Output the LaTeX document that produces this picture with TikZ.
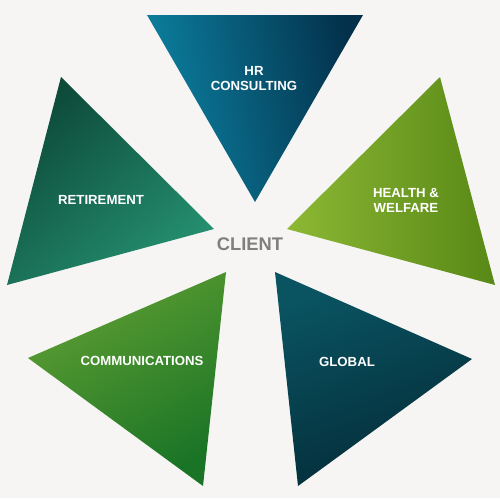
\documentclass[tikz,border=0pt]{standalone}
\usepackage{fontspec}
\setmainfont{Liberation Sans}
\definecolor{bg}{HTML}{F6F5F3}
\definecolor{hrA}{HTML}{0C82A2}
\definecolor{hrB}{HTML}{03304A}
\definecolor{reA}{HTML}{0D4A3A}
\definecolor{reB}{HTML}{259070}
\definecolor{heA}{HTML}{8CB834}
\definecolor{heB}{HTML}{588816}
\definecolor{coA}{HTML}{5E9E32}
\definecolor{coB}{HTML}{1A7426}
\definecolor{glA}{HTML}{0A5462}
\definecolor{glB}{HTML}{042C38}
\definecolor{clientgray}{HTML}{7F7F7F}
\tikzset{
  lbl/.style={text=white, font=\bfseries\fontsize{13.2}{15}\selectfont, align=center, inner sep=0pt},
}
\begin{document}
\begin{tikzpicture}[x=1pt,y=-1pt]
\fill[bg] (0,0) rectangle (500,498);
\useasboundingbox (0,0) rectangle (500,498);
% HR consulting
\coordinate (h1) at (147,15); \coordinate (h2) at (363,15); \coordinate (h3) at (255,202);
\shade[left color=hrA, right color=hrB, shading angle=100] (h1) -- (h2) -- (h3) -- cycle;
% Retirement
\coordinate (r1) at (61,77); \coordinate (r2) at (214,229); \coordinate (r3) at (7,285);
\shade[top color=reA, bottom color=reB, shading angle=40] (r1) -- (r2) -- (r3) -- cycle;
% Health
\coordinate (w1) at (440,77); \coordinate (w2) at (495,285); \coordinate (w3) at (287,229);
\shade[left color=heA, right color=heB] (w1) -- (w2) -- (w3) -- cycle;
% Communications
\coordinate (c1) at (226,272); \coordinate (c2) at (28,358); \coordinate (c3) at (203,486);
\shade[top color=coA, bottom color=coB, shading angle=30] (c1) -- (c2) -- (c3) -- cycle;
% Global
\coordinate (g1) at (275,272); \coordinate (g2) at (472,359); \coordinate (g3) at (298,486);
\shade[top color=glA, bottom color=glB, shading angle=20] (g1) -- (g2) -- (g3) -- cycle;
% labels
\node[lbl] (hr) at (254,79) {HR\\CONSULTING};
\node[lbl] (ret) at (101,200) {RETIREMENT};
\node[lbl] (hw) at (406,200) {HEALTH \&\\WELFARE};
\node[lbl] (com) at (142,361) {COMMUNICATIONS};
\node[lbl] (glo) at (347,362) {GLOBAL};
\node[text=clientgray, font=\bfseries\fontsize{18.3}{20}\selectfont, inner sep=0pt] (client) at (250,244) {CLIENT};
\end{tikzpicture}
\end{document}
